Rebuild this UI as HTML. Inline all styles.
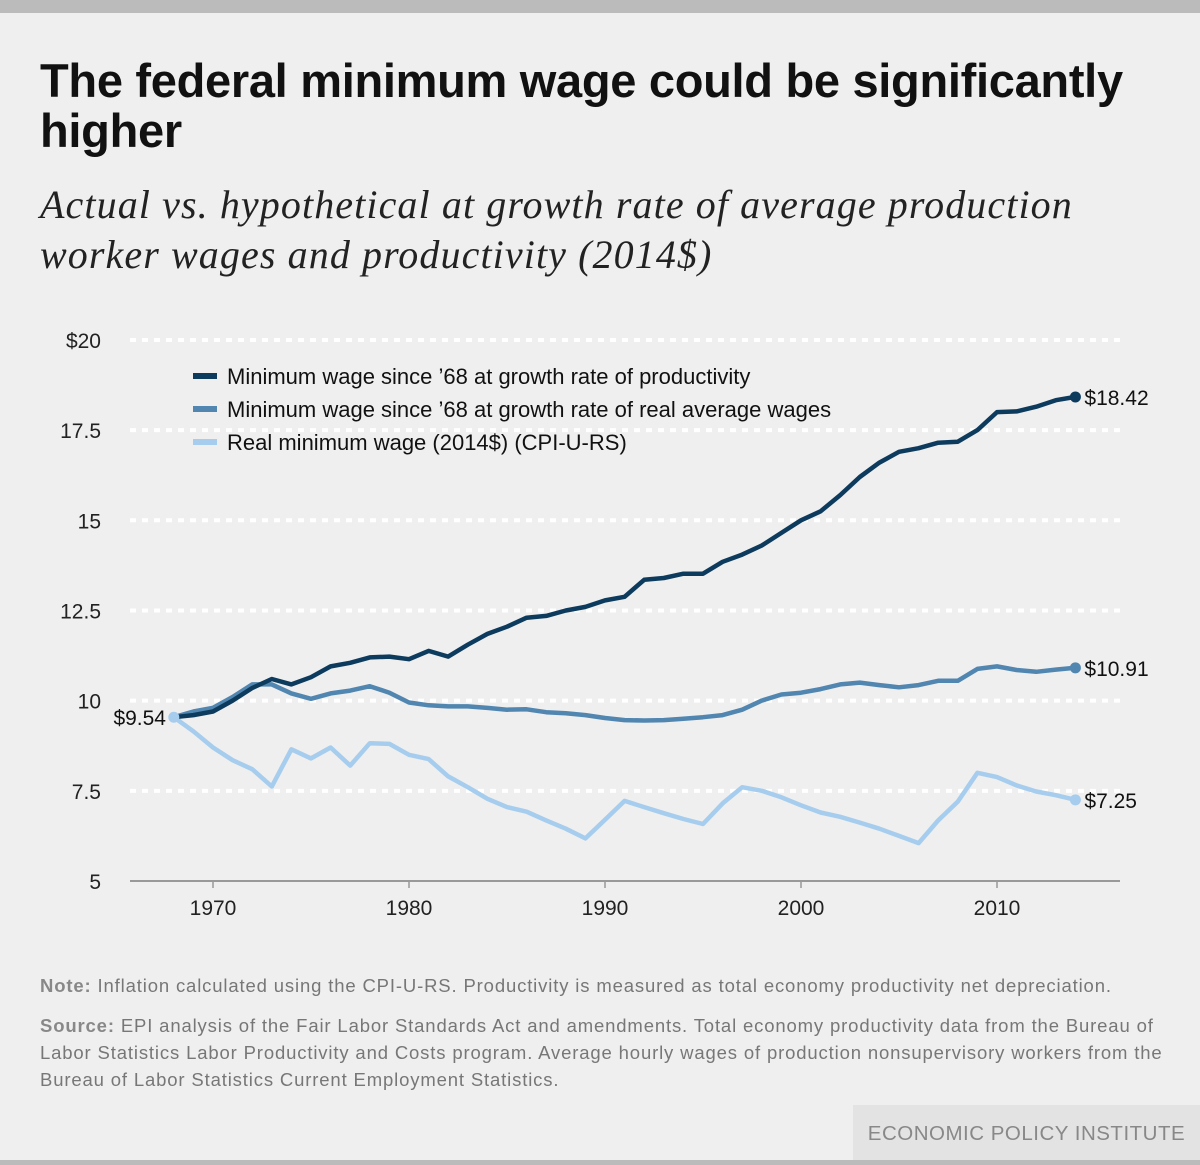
<!DOCTYPE html>
<html><head><meta charset="utf-8">
<style>
body{margin:0;width:1200px;height:1165px;background:#efefef;position:relative;overflow:hidden;font-family:"Liberation Sans",sans-serif}
.abs{position:absolute}
#title{left:40px;top:56px;font-size:47px;font-weight:bold;color:#111;line-height:50px;letter-spacing:-0.3px;width:1160px;white-space:nowrap}
#sub{left:40px;top:180px;font-family:"Liberation Serif",serif;font-style:italic;font-size:40px;line-height:50px;color:#222;width:1160px;white-space:nowrap;letter-spacing:1.1px}
.note{left:40px;font-size:18.5px;color:#777;line-height:27px;width:1160px;letter-spacing:0.85px;white-space:nowrap}
.note b{color:#888}
</style></head><body>
<div class="abs" style="left:0;top:0;width:1200px;height:13px;background:#bbb"></div>
<div class="abs" id="title">The federal minimum wage could be significantly<br>higher</div>
<div class="abs" id="sub">Actual vs. hypothetical at growth rate of average production<br>worker wages and productivity (2014$)</div>
<svg class="abs" style="left:0;top:0" width="1200" height="940" id="chart"></svg>
<div class="abs note" style="top:972px"><b>Note:</b> Inflation calculated using the CPI-U-RS. Productivity is measured as total economy productivity net depreciation.</div>
<div class="abs note" style="top:1012px"><b>Source:</b> EPI analysis of the Fair Labor Standards Act and amendments. Total economy productivity data from the Bureau of<br>Labor Statistics Labor Productivity and Costs program. Average hourly wages of production nonsupervisory workers from the<br>Bureau of Labor Statistics Current Employment Statistics.</div>
<div class="abs" style="left:853px;top:1105px;width:347px;height:55px;background:#e3e3e3;color:#888;font-size:20.5px;line-height:58px;text-align:center;letter-spacing:0.5px;white-space:nowrap">ECONOMIC POLICY INSTITUTE</div>
<div class="abs" style="left:0;top:1160px;width:1200px;height:5px;background:#bbb"></div>
<script>
const years=[];for(let y=1968;y<=2014;y++)years.push(y);
const productivity=[9.54,9.6,9.7,10.0,10.35,10.6,10.45,10.65,10.95,11.05,11.2,11.22,11.15,11.38,11.22,11.55,11.85,12.05,12.3,12.35,12.5,12.6,12.78,12.88,13.35,13.4,13.52,13.52,13.85,14.05,14.3,14.65,15.0,15.25,15.7,16.2,16.6,16.9,17.0,17.15,17.18,17.5,18.0,18.02,18.15,18.33,18.42];
const avgWages=[9.54,9.7,9.8,10.1,10.45,10.45,10.2,10.05,10.2,10.28,10.4,10.22,9.95,9.87,9.84,9.84,9.8,9.75,9.76,9.68,9.65,9.6,9.52,9.46,9.45,9.46,9.5,9.54,9.6,9.75,10.0,10.17,10.22,10.32,10.45,10.5,10.43,10.37,10.43,10.55,10.55,10.88,10.95,10.85,10.8,10.86,10.91];
const realMin=[9.54,9.15,8.7,8.35,8.1,7.62,8.65,8.4,8.7,8.2,8.82,8.8,8.5,8.38,7.9,7.6,7.28,7.05,6.92,6.68,6.45,6.18,6.7,7.22,7.05,6.88,6.72,6.58,7.15,7.6,7.5,7.32,7.1,6.9,6.78,6.62,6.45,6.25,6.05,6.68,7.2,8.0,7.88,7.65,7.48,7.38,7.25];
const yTicks=[5,7.5,10,12.5,15,17.5,20];
const yTickLabels=["5","7.5","10","12.5","15","17.5","$20"];
const xTicks=[1970,1980,1990,2000,2010];
const seriesNames=["Minimum wage since \u201968 at growth rate of productivity","Minimum wage since \u201968 at growth rate of real average wages","Real minimum wage (2014$) (CPI-U-RS)"];
const endLabels=["$18.42","$10.91","$7.25"];
const colors=["#0d3b5e","#5186b1","#a6cdee"];
const NS="http://www.w3.org/2000/svg";
const svg=document.getElementById('chart');
const X=y=>213+(y-1970)*19.6;
const Y=v=>881-(v-5)*36.07;
function el(t,a,p){const e=document.createElementNS(NS,t);for(const k in a)e.setAttribute(k,a[k]);(p||svg).appendChild(e);return e;}
yTicks.forEach((t,i)=>{
 if(t>5){const g=el('line',{x1:130,x2:1120,y1:Y(t),y2:Y(t),stroke:'#fff','stroke-width':4,'stroke-dasharray':'6 6'});
 
 }
 const tx=el('text',{x:101,y:Y(t)+8,'text-anchor':'end','font-size':21,fill:'#222'});tx.textContent=yTickLabels[i];
 
 
});
const ax=el('line',{x1:130,x2:1120,y1:881,y2:881,stroke:'#999','stroke-width':2});


xTicks.forEach(t=>{
 el('line',{x1:X(t),x2:X(t),y1:881,y2:888,stroke:'#999','stroke-width':1.5});
 const tx=el('text',{x:X(t),y:915,'text-anchor':'middle','font-size':21,fill:'#222'});tx.textContent=t;
 
 
});
const all=[productivity,avgWages,realMin];
[2,1,0].forEach(i=>{
 const d=all[i].map((v,j)=>(j?'L':'M')+X(years[j]).toFixed(1)+' '+Y(v).toFixed(1)).join(' ');
 const p=el('path',{d:d,fill:'none',stroke:colors[i],'stroke-width':4.5,'stroke-linejoin':'round'});
 
 
 const last=all[i][all[i].length-1];
 const c=el('circle',{cx:X(2014),cy:Y(last),r:5.5,fill:colors[i]});
 
 
 const t=el('text',{x:X(2014)+9,y:Y(last)+8,'font-size':21,fill:'#111'});t.textContent=endLabels[i];
 
 
});
el('circle',{cx:X(1968),cy:Y(9.54),r:5.5,fill:colors[2]});
const st=el('text',{x:166,y:Y(9.54)+8,'text-anchor':'end','font-size':21,fill:'#111'});st.textContent="$9.54";


seriesNames.forEach((n,i)=>{
 const yy=376+i*33;
 const r=el('rect',{x:193,y:yy-3,width:24,height:6,fill:colors[i]});
 
 
 const t=el('text',{x:227,y:yy+8,'font-size':22,fill:'#111'});t.textContent=n;
 
 
});
</script>
</body></html>
